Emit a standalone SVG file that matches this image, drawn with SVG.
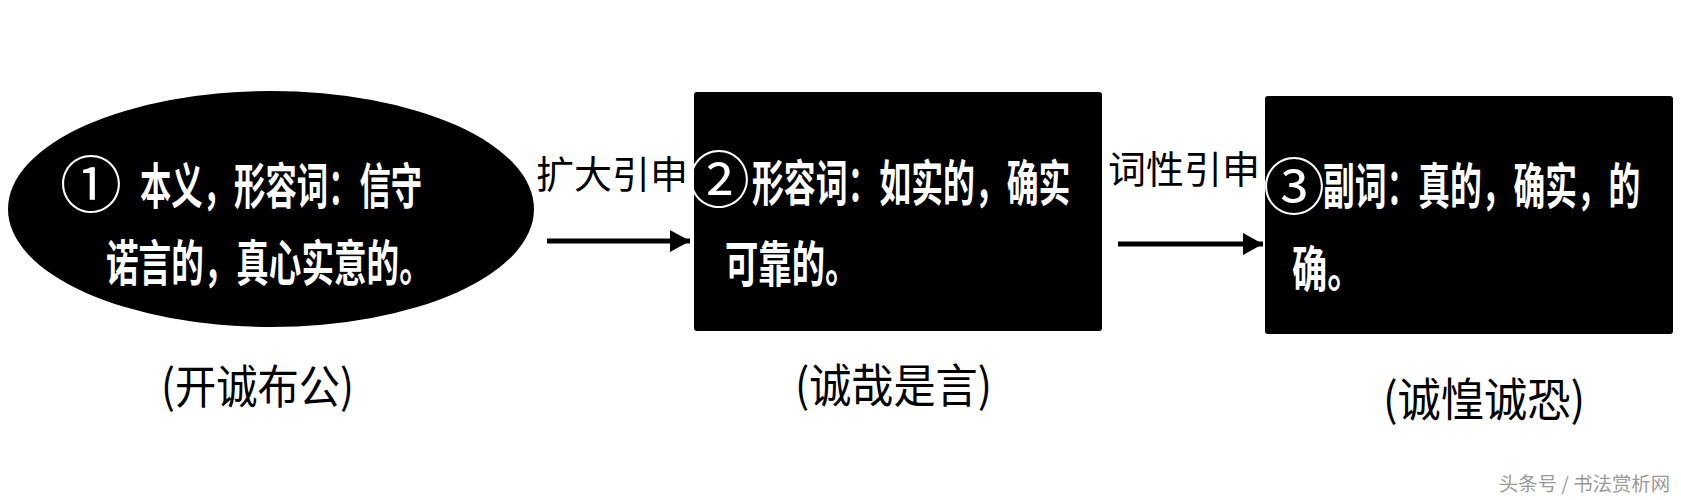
<svg xmlns="http://www.w3.org/2000/svg" width="1681" height="500" viewBox="0 0 1681 500">
<style>
.node{fill:#000}
.nt{fill:#fff;font-family:"Noto Sans CJK SC","Noto Sans",sans-serif;font-size:49px;font-weight:bold;dominant-baseline:central}
.num{fill:#fff;font-family:"Noto Sans CJK SC","Noto Sans",sans-serif;font-size:62px;font-weight:normal;dominant-baseline:central;text-anchor:middle}
.lbl{fill:#000;font-family:"Noto Sans CJK SC","Noto Sans",sans-serif;font-size:38px;dominant-baseline:central}
.sub{fill:#000;font-family:"Noto Sans CJK SC","Noto Sans",sans-serif;font-size:46px;dominant-baseline:central}
.wm{fill:#9a9a9a;font-family:"Noto Sans CJK SC","Noto Sans",sans-serif;font-size:19px;dominant-baseline:central}
.edge{stroke:#000;stroke-width:5;fill:none}
</style>
<defs>
<marker id="ah" markerWidth="4" markerHeight="4.4" refX="4" refY="2.2" orient="auto" markerUnits="strokeWidth">
<path d="M0,0 L4,2.2 L0,4.4 Z" fill="#000"/>
</marker>
</defs>
<rect width="1681" height="500" fill="#fff"/>
<g id="node1">
<ellipse class="node" cx="271" cy="209" rx="263" ry="118"/>
<text class="num" x="91" y="181">①</text>
<text class="nt" transform="translate(140 183) scale(0.64 1)">本义，形容词：信守</text>
<text class="nt" transform="translate(106 260) scale(0.665 1)">诺言的，真心实意的。</text>
</g>
<g id="node2">
<rect class="node" x="694" y="92" width="408" height="239" rx="3"/>
<text class="num" x="719" y="176">②</text>
<text class="nt" transform="translate(752 180) scale(0.65 1)">形容词：如实的，确实</text>
<text class="nt" transform="translate(725 260) scale(0.68 1)">可靠的。</text>
</g>
<g id="node3">
<rect class="node" x="1265" y="96" width="408" height="238" rx="3"/>
<text class="num" x="1294" y="183">③</text>
<text class="nt" transform="translate(1323 183) scale(0.648 1)">副词：真的，确实，的</text>
<text class="nt" transform="translate(1292 265) scale(0.72 1)">确。</text>
</g>
<g id="connectors">
<line class="edge" x1="547" y1="241" x2="690" y2="241" marker-end="url(#ah)"/>
<line class="edge" x1="1118" y1="244" x2="1263" y2="244" marker-end="url(#ah)"/>
<text class="lbl" x="536" y="171">扩大引申</text>
<text class="lbl" x="1108" y="166">词性引申</text>
</g>
<g id="sublabels">
<text class="sub" x="161" y="383" textLength="193" lengthAdjust="spacingAndGlyphs">(开诚布公)</text>
<text class="sub" x="795" y="382" textLength="197" lengthAdjust="spacingAndGlyphs">(诚哉是言)</text>
<text class="sub" x="1383" y="396" textLength="202" lengthAdjust="spacingAndGlyphs">(诚惶诚恐)</text>
</g>
<text class="wm" x="1499" y="482" textLength="171" lengthAdjust="spacingAndGlyphs">头条号 / 书法赏析网</text>
</svg>
